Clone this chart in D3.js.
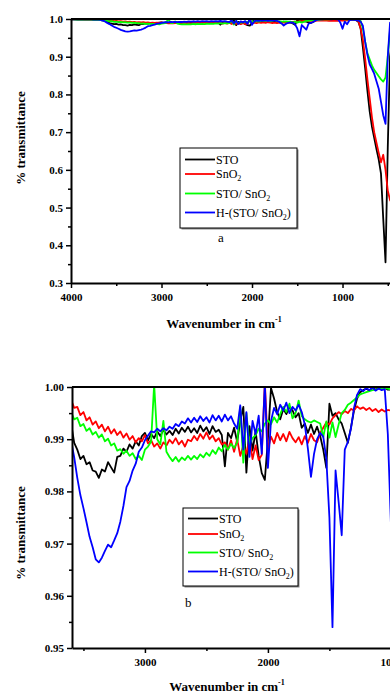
<!DOCTYPE html>
<html>
<head>
<meta charset="utf-8">
<script src="https://cdn.jsdelivr.net/npm/d3@7"></script>
<style>
  html, body { margin: 0; padding: 0; background: #fff; overflow: hidden; }
  svg { display: block; }
</style>
</head>
<body>
<script>
// wavenumber grid in cm-1 (4000 down to 450, step 25)
var wavenumbers = d3.range(4000, 449, -25);

// % transmittance, one value per grid point
var sto = [
  0.9990, 0.9988, 0.9990, 0.9987, 0.9986, 0.9988, 0.9985, 0.9984,
  0.9983, 0.9981, 0.9980, 0.9978, 0.9975, 0.9970, 0.9962, 0.9950,
  0.9930, 0.9893, 0.9880, 0.9862, 0.9868, 0.9852, 0.9856, 0.9840,
  0.9838, 0.9826, 0.9842, 0.9838, 0.9856, 0.9846, 0.9836, 0.9866,
  0.9868, 0.9882, 0.9876, 0.9890, 0.9882, 0.9896, 0.9888, 0.9906,
  0.9912, 0.9898, 0.9910, 0.9902, 0.9915, 0.9906, 0.9918, 0.9909,
  0.9916, 0.9908, 0.9920, 0.9911, 0.9922, 0.9914, 0.9924, 0.9913,
  0.9921, 0.9912, 0.9926, 0.9915, 0.9923, 0.9910, 0.9925, 0.9914,
  0.9918, 0.9908, 0.9848, 0.9912, 0.9902, 0.9922, 0.9895, 0.9935,
  0.9962, 0.9836, 0.9925, 0.9878, 0.9915, 0.9868, 0.9835, 0.9822,
  0.9900, 0.9998, 0.9978, 0.9952, 0.9938, 0.9958, 0.9948, 0.9962,
  0.9955, 0.9942, 0.9950, 0.9922, 0.9930, 0.9912, 0.9928, 0.9910,
  0.9924, 0.9906, 0.9880, 0.9845, 0.9968, 0.9945, 0.9950, 0.9938,
  0.9930, 0.9912, 0.9893, 0.9922, 0.9955, 0.9978, 0.9990, 0.9994,
  0.9997, 0.9993, 0.9998, 0.9995, 0.9999, 0.9996, 0.9998, 0.9995,
  0.9995, 0.9990, 0.9986, 0.9983, 0.9982, 0.9980, 0.9970, 0.9930,
  0.9750, 0.9250, 0.8700, 0.8100, 0.7550, 0.7150, 0.6850, 0.6550,
  0.6270, 0.5900, 0.4700, 0.3550, 0.6600, 0.9000, 0.9500
];
var sno2 = [
  0.9990, 0.9991, 0.9989, 0.9990, 0.9988, 0.9989, 0.9987, 0.9988,
  0.9986, 0.9987, 0.9985, 0.9986, 0.9984, 0.9983, 0.9981, 0.9978,
  0.9975, 0.9960, 0.9962, 0.9946, 0.9952, 0.9936, 0.9942, 0.9928,
  0.9934, 0.9921, 0.9928, 0.9915, 0.9924, 0.9911, 0.9919, 0.9908,
  0.9915, 0.9903, 0.9911, 0.9899, 0.9906, 0.9894, 0.9902, 0.9896,
  0.9908, 0.9892, 0.9898, 0.9886, 0.9892, 0.9882, 0.9894, 0.9888,
  0.9899, 0.9892, 0.9902, 0.9890, 0.9897, 0.9886, 0.9899, 0.9896,
  0.9906, 0.9898, 0.9910, 0.9901, 0.9913, 0.9900, 0.9907, 0.9896,
  0.9902, 0.9890, 0.9894, 0.9880, 0.9898, 0.9876, 0.9900, 0.9868,
  0.9888, 0.9872, 0.9902, 0.9862, 0.9888, 0.9860, 0.9870, 1.0010,
  0.9880, 0.9905, 0.9892, 0.9912, 0.9898, 0.9910, 0.9896, 0.9914,
  0.9902, 0.9894, 0.9904, 0.9890, 0.9906, 0.9893, 0.9910, 0.9898,
  0.9894, 0.9912, 0.9922, 0.9932, 0.9928, 0.9940, 0.9946, 0.9952,
  0.9948, 0.9954, 0.9950, 0.9958, 0.9955, 0.9963, 0.9958, 0.9961,
  0.9956, 0.9960, 0.9954, 0.9958, 0.9952, 0.9957, 0.9953, 0.9956,
  0.9955, 0.9960, 0.9965, 0.9970, 0.9972, 0.9975, 0.9970, 0.9950,
  0.9750, 0.9450, 0.8950, 0.8400, 0.7900, 0.7400, 0.7000, 0.6720,
  0.6450, 0.6200, 0.6400, 0.6000, 0.5450, 0.5200, 0.5100
];
var stoSno2 = [
  0.9988, 0.9989, 0.9987, 0.9988, 0.9986, 0.9987, 0.9985, 0.9984,
  0.9983, 0.9982, 0.9980, 0.9979, 0.9976, 0.9972, 0.9966, 0.9958,
  0.9952, 0.9938, 0.9941, 0.9925, 0.9929, 0.9916, 0.9921, 0.9909,
  0.9914, 0.9903, 0.9909, 0.9896, 0.9901, 0.9888, 0.9892, 0.9878,
  0.9881, 0.9872, 0.9878, 0.9868, 0.9873, 0.9862, 0.9868, 0.9860,
  0.9880, 0.9886, 0.9895, 1.0005, 0.9900, 0.9890, 0.9935, 0.9876,
  0.9866, 0.9858, 0.9866, 0.9857, 0.9865, 0.9860, 0.9868, 0.9861,
  0.9868, 0.9862, 0.9871, 0.9865, 0.9874, 0.9868, 0.9879, 0.9872,
  0.9884, 0.9877, 0.9889, 0.9880, 0.9891, 0.9883, 0.9894, 0.9962,
  0.9855, 0.9950, 0.9890, 0.9902, 0.9908, 0.9920, 0.9915, 0.9930,
  0.9936, 0.9929, 0.9942, 0.9932, 0.9948, 0.9962, 0.9952, 0.9968,
  0.9940, 0.9950, 0.9974, 0.9944, 0.9938, 0.9934, 0.9932, 0.9936,
  0.9933, 0.9930, 0.9904, 0.9934, 0.9903, 0.9932, 0.9904, 0.9928,
  0.9950, 0.9956, 0.9966, 0.9970, 0.9975, 0.9980, 0.9986, 0.9988,
  0.9990, 0.9992, 0.9994, 0.9995, 0.9997, 0.9998, 0.9998, 0.9997,
  0.9995, 0.9993, 0.9990, 0.9988, 0.9985, 0.9983, 0.9980, 0.9970,
  0.9950, 0.9750, 0.9400, 0.9100, 0.8930, 0.8770, 0.8650, 0.8570,
  0.8480, 0.8400, 0.8340, 0.8450, 0.9000, 0.9700, 0.9900
];
var hStoSno2 = [
  0.9992, 0.9993, 0.9991, 0.9992, 0.9990, 0.9991, 0.9989, 0.9990,
  0.9988, 0.9989, 0.9987, 0.9985, 0.9982, 0.9975, 0.9960, 0.9935,
  0.9897, 0.9865, 0.9826, 0.9793, 0.9768, 0.9741, 0.9713, 0.9693,
  0.9670, 0.9664, 0.9673, 0.9686, 0.9698, 0.9693, 0.9706, 0.9720,
  0.9742, 0.9772, 0.9808, 0.9820, 0.9840, 0.9853, 0.9876, 0.9884,
  0.9898, 0.9907, 0.9915, 0.9913, 0.9920, 0.9915, 0.9921, 0.9917,
  0.9924, 0.9920, 0.9929, 0.9925, 0.9934, 0.9930, 0.9940, 0.9932,
  0.9941, 0.9933, 0.9944, 0.9935, 0.9942, 0.9932, 0.9946, 0.9936,
  0.9945, 0.9934, 0.9947, 0.9936, 0.9944, 0.9930, 0.9920, 0.9965,
  0.9880, 0.9952, 0.9866, 0.9935, 0.9910, 0.9945, 0.9872, 1.0005,
  0.9845, 0.9935, 0.9960, 0.9948, 0.9966, 0.9955, 0.9970, 0.9950,
  0.9962, 0.9955, 0.9966, 0.9952, 0.9928, 0.9882, 0.9828, 0.9872,
  0.9900, 0.9912, 0.9905, 0.9862, 0.9750, 0.9540, 0.9840, 0.9780,
  0.9716, 0.9880, 0.9895, 0.9920, 0.9960, 0.9985, 0.9996, 0.9992,
  0.9998, 0.9994, 0.9999, 0.9993, 0.9997, 0.9994, 0.9996, 0.9910,
  0.9740, 0.9930, 0.9860, 0.9960, 0.9980, 0.9980, 0.9970, 0.9960,
  0.9930, 0.9820, 0.9400, 0.9050, 0.8800, 0.8680, 0.8550, 0.8350,
  0.8150, 0.7800, 0.7450, 0.7220, 0.9000, 0.9900, 0.9950
];

var seriesNames = ["STO", "SnO2", "STO/ SnO2", "H-(STO/ SnO2)"];
var seriesColors = ["#000000", "#ff0000", "#00ff00", "#0000ff"];
var seriesValues = [sto, sno2, stoSno2, hStoSno2];

// axis ticks, panel a
var xTicksA = [4000, 3000, 2000, 1000];
var xMinorA = [3500, 2500, 1500, 500];
var yTicksA = [0.3, 0.4, 0.5, 0.6, 0.7, 0.8, 0.9, 1.0];
var yMinorA = [0.35, 0.45, 0.55, 0.65, 0.75, 0.85, 0.95];
// axis ticks, panel b
var xTicksB = [3000, 2000, 1000];
var xMinorB = [3500, 2500, 1500];
var yTicksB = [0.95, 0.96, 0.97, 0.98, 0.99, 1.00];
var yMinorB = [0.955, 0.965, 0.975, 0.985, 0.995];

var W = 390, H = 693;
var svg = d3.select("body").append("svg")
    .attr("width", W)
    .attr("height", H);

var axisFont = "'Liberation Serif', 'Times New Roman', serif";

function drawPanel(p) {
    var x = d3.scaleLinear().domain(p.xDomain).range(p.xRange);
    var y = d3.scaleLinear().domain(p.yDomain).range(p.yRange);
    var g = svg.append("g");
    var top = p.yRange[1], bottom = p.yRange[0], left = p.xRange[0];

    g.append("clipPath").attr("id", p.id + "clip")
        .append("rect")
        .attr("x", left).attr("y", top)
        .attr("width", W - left + 10).attr("height", bottom - top);

    var line = d3.line()
        .x(function(d) { return x(d.w); })
        .y(function(d) { return y(d.v); });

    var lines = g.append("g").attr("clip-path", "url(#" + p.id + "clip)");
    seriesValues.forEach(function(vals, k) {
        var pts = wavenumbers.map(function(w, i) { return { w: w, v: vals[i] }; });
        lines.append("path")
            .datum(pts)
            .attr("d", line)
            .attr("fill", "none")
            .attr("stroke", seriesColors[k])
            .attr("stroke-width", 1.8)
            .attr("stroke-linejoin", "round");
    });

    // frame top
    g.append("line")
        .attr("x1", left).attr("x2", W + 5)
        .attr("y1", top).attr("y2", top)
        .attr("stroke", "#000").attr("stroke-width", 2);

    // x axis
    g.append("g").attr("transform", "translate(0," + bottom + ")")
        .call(d3.axisBottom(x).tickValues(p.xTicks).tickSize(5).tickSizeOuter(0).tickPadding(5)
            .tickFormat(d3.format("d")));
    g.append("g").attr("transform", "translate(0," + bottom + ")")
        .call(d3.axisBottom(x).tickValues(p.xMinor).tickSize(3).tickSizeOuter(0).tickFormat(""))
        .select(".domain").remove();

    // y axis
    g.append("g").attr("transform", "translate(" + left + ",0)")
        .call(d3.axisLeft(y).tickValues(p.yTicks).tickSize(5).tickSizeOuter(0).tickPadding(3)
            .tickFormat(d3.format(p.yFormat)));
    g.append("g").attr("transform", "translate(" + left + ",0)")
        .call(d3.axisLeft(y).tickValues(p.yMinor).tickSize(3).tickSizeOuter(0).tickFormat(""))
        .select(".domain").remove();

    g.selectAll(".domain").attr("stroke-width", 2);
    g.selectAll(".tick line").attr("stroke-width", 1.5);
    g.selectAll(".tick text")
        .attr("font-family", axisFont)
        .attr("font-weight", "bold")
        .attr("font-size", 11)
        .attr("fill", "#000");

    // axis titles
    g.append("text")
        .attr("transform", "translate(25," + p.yTitleY + ") rotate(-90)")
        .attr("text-anchor", "middle")
        .attr("font-family", axisFont)
        .attr("font-weight", "bold")
        .attr("font-size", 13)
        .text("% transmittance");

    var xt = g.append("text")
        .attr("x", p.xTitleX).attr("y", p.xTitleY)
        .attr("text-anchor", "middle")
        .attr("font-family", axisFont)
        .attr("font-weight", "bold")
        .attr("font-size", 13);
    xt.append("tspan").text("Wavenumber in cm");
    xt.append("tspan").attr("font-size", 8).attr("dy", -6).text("-1");

    // legend
    var lg = g.append("g").attr("transform", "translate(" + p.legend.x + "," + p.legend.y + ")");
    lg.append("rect")
        .attr("x", 1.5).attr("y", 1.5)
        .attr("width", p.legend.w).attr("height", p.legend.h)
        .attr("fill", "#888");
    lg.append("rect")
        .attr("width", p.legend.w).attr("height", p.legend.h)
        .attr("fill", "#fff").attr("stroke", "#000").attr("stroke-width", 1);
    seriesNames.forEach(function(name, k) {
        var ry = p.legend.rows[k];
        lg.append("line")
            .attr("x1", 5).attr("x2", 35)
            .attr("y1", ry).attr("y2", ry)
            .attr("stroke", seriesColors[k]).attr("stroke-width", 1.8);
        var t = lg.append("text")
            .attr("x", 36).attr("y", ry + 4)
            .attr("font-family", axisFont)
            .attr("font-size", 12);
        var parts = name.split("SnO2");
        parts.forEach(function(part, j) {
            if (j > 0) {
                t.append("tspan").text("SnO");
                t.append("tspan").attr("font-size", 8).attr("dy", 3).text("2");
                t.append("tspan").attr("dy", -3).text(part);
            } else {
                t.append("tspan").text(part);
            }
        });
    });

    g.append("text")
        .attr("x", p.tag.x).attr("y", p.tag.y)
        .attr("font-family", axisFont)
        .attr("font-size", 13)
        .text(p.tag.text);
}

drawPanel({
    id: "a",
    xDomain: [4000, 450], xRange: [71, 392.3],
    yDomain: [0.3, 1.0], yRange: [283, 19],
    xTicks: xTicksA, xMinor: xMinorA, yTicks: yTicksA, yMinor: yMinorA,
    yFormat: ".1f",
    yTitleY: 138, xTitleX: 224, xTitleY: 328,
    legend: { x: 180, y: 148, w: 117, h: 80, rows: [11.5, 26, 45.5, 64.5] },
    tag: { x: 218, y: 242, text: "a" }
});

drawPanel({
    id: "b",
    xDomain: [3593, 1000], xRange: [72, 390.9],
    yDomain: [0.95, 1.00], yRange: [648, 387],
    xTicks: xTicksB, xMinor: xMinorB, yTicks: yTicksB, yMinor: yMinorB,
    yFormat: ".2f",
    yTitleY: 533, xTitleX: 227, xTitleY: 691,
    legend: { x: 183, y: 508, w: 115, h: 78, rows: [10.5, 26, 44.5, 63.5] },
    tag: { x: 185, y: 607, text: "b" }
});
</script>
</body>
</html>
